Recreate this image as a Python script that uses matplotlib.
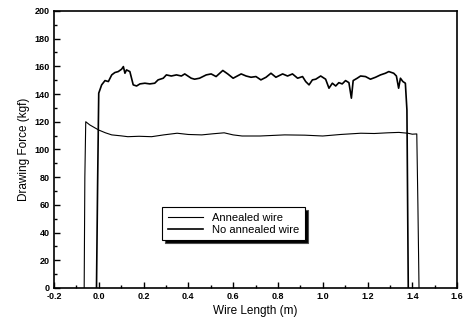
import matplotlib.pyplot as plt
from matplotlib.ticker import MultipleLocator

plt.rcParams['font.family'] = ['Liberation Sans', 'DejaVu Sans']

# Annealed wire
annealed_x = [-0.065, -0.062, -0.058, -0.04, 0.0, 0.03, 0.058, 0.10, 0.13, 0.18,
              0.236, 0.29, 0.35, 0.40, 0.46, 0.51, 0.56, 0.60, 0.64, 0.72, 0.83,
              0.92, 1.0, 1.08, 1.17, 1.23, 1.29, 1.34, 1.38, 1.40, 1.42, 1.425, 1.43]
annealed_y = [0, 80, 120, 117.7, 114, 112, 110.5, 109.8, 109.2, 109.5,
              109.2, 110.5, 111.7, 110.8, 110.5, 111.3, 112, 110.5, 109.7, 109.7, 110.5,
              110.3, 109.7, 110.8, 111.7, 111.5, 112, 112.3, 111.7, 111.0, 111.2, 60, 0]

# No annealed wire
noann_x = [-0.01, -0.005, 0.0, 0.013, 0.028, 0.043, 0.058, 0.072, 0.087, 0.102,
           0.11, 0.117, 0.124, 0.139, 0.154, 0.169, 0.184, 0.206, 0.228, 0.25,
           0.265, 0.288, 0.302, 0.324, 0.347, 0.369, 0.384, 0.413, 0.428, 0.45,
           0.48, 0.502, 0.524, 0.554, 0.576, 0.6, 0.636, 0.658, 0.68, 0.702,
           0.724, 0.747, 0.769, 0.791, 0.821, 0.843, 0.865, 0.888, 0.91, 0.924,
           0.939, 0.954, 0.969, 0.991, 1.013, 1.028, 1.043, 1.058, 1.072, 1.087,
           1.102, 1.117, 1.128, 1.136, 1.154, 1.169, 1.191, 1.213, 1.236, 1.258,
           1.28, 1.295, 1.317, 1.329, 1.339, 1.347, 1.358, 1.369, 1.376, 1.382]
noann_y = [0, 75, 140.6, 146.6, 149.7, 149, 153.8, 155.5, 156.2, 157.9,
           159.8, 155, 157.4, 156.2, 146.6, 145.8, 147.3, 147.8, 147.3, 147.8,
           150.2, 151.4, 153.8, 153, 153.8, 153, 154.5, 151.4, 150.7, 151.4,
           153.8, 154.5, 152.6, 157, 154.5, 151.4, 154.5, 153, 152.1, 152.6,
           150.2, 152.1, 155, 152.1, 154.5, 153, 154.5, 151.4, 152.6, 149,
           146.6, 150.2, 150.7, 153, 150.7, 144.2, 147.8, 145.8, 148.2, 147.3,
           149.7, 148.2, 137, 149.7, 151.4, 153, 152.6, 150.7, 152.1, 153.8,
           155, 156.2, 155, 153, 144.2, 151.4, 149, 147.8, 128.5, 0]

xticks = [-0.2, 0.0, 0.2, 0.4, 0.6, 0.8, 1.0, 1.2, 1.4, 1.6]
yticks = [0, 20, 40, 60, 80, 100, 120, 140, 160, 180, 200]

fig = plt.figure(figsize=(4.65, 3.26), dpi=100)
ax = fig.add_axes([0.116, 0.1166, 0.867, 0.85])

ax.plot(annealed_x, annealed_y, color='black', lw=0.8, label='Annealed wire')
ax.plot(noann_x, noann_y, color='black', lw=1.2, label='No annealed wire')

ax.set_xlim(-0.2, 1.6)
ax.set_ylim(0, 200)
ax.set_xticks(xticks)
ax.set_yticks(yticks)
ax.set_xticklabels(['%.1f' % v for v in xticks], fontsize=6.5, fontweight='bold')
ax.set_yticklabels([str(v) for v in yticks], fontsize=6.5, fontweight='bold')
ax.xaxis.set_minor_locator(MultipleLocator(0.1))
ax.yaxis.set_minor_locator(MultipleLocator(10))
ax.tick_params(which='both', direction='in', top=False, right=False, width=1)
ax.tick_params(which='major', length=4, pad=3)
ax.tick_params(which='minor', length=2)
for s in ax.spines.values():
    s.set_linewidth(1.2)

ax.set_xlabel('Wire Length (m)', fontsize=8.5, labelpad=3)
ax.set_ylabel('Drawing Force (kgf)', fontsize=8.5, labelpad=3)

leg = ax.legend(loc='upper left', bbox_to_anchor=(0.268, 0.292), fontsize=8,
                frameon=True, fancybox=False,
                shadow={'facecolor': 'black', 'alpha': 1.0},
                borderpad=0.5, handlelength=3.2, labelspacing=0.2, borderaxespad=0)
leg.get_frame().set_edgecolor('black')
leg.get_frame().set_linewidth(0.8)

fig.savefig('out.png', dpi=100)
